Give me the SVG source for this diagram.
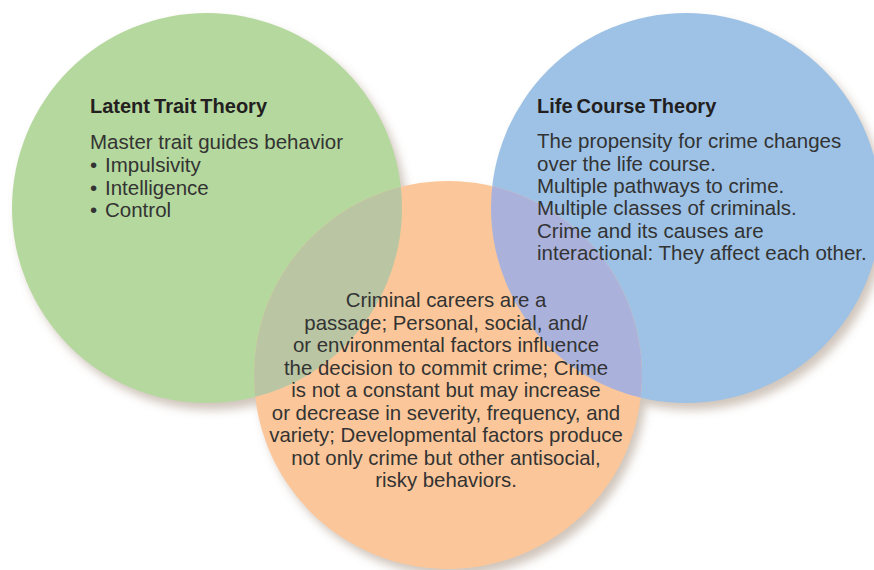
<svg xmlns="http://www.w3.org/2000/svg" width="874" height="570" viewBox="0 0 874 570">
  <defs>
    <filter id="shadow" x="-20%" y="-20%" width="140%" height="140%">
      <feGaussianBlur in="SourceAlpha" stdDeviation="5"/>
      <feOffset dx="5" dy="7" result="b"/>
      <feFlood flood-color="#8a7058" flood-opacity="0.4"/>
      <feComposite in2="b" operator="in"/>
    </filter>
    <clipPath id="clipOrange">
      <circle cx="448" cy="375" r="194"/>
    </clipPath>
  </defs>
  <style>
    text { font-family: "Liberation Sans", Arial, sans-serif; }
    .head { font-size: 20px; font-weight: bold; fill: #231f20; word-spacing: -1.5px; }
    .body { font-size: 20.5px; fill: #333333; }
    .center { font-size: 20.4px; fill: #333333; text-anchor: middle; }
  </style>
  <rect width="874" height="570" fill="#ffffff"/>
  <g id="shadows" filter="url(#shadow)">
    <circle cx="207" cy="208" r="195" fill="#000"/>
    <circle cx="686" cy="208" r="195" fill="#000"/>
    <circle cx="448" cy="375" r="194" fill="#000"/>
  </g>
  <g id="latent">
    <circle cx="207" cy="208" r="195" fill="#b5d89e"/>
  </g>
  <g id="lifecourse">
    <circle cx="686" cy="208" r="195" fill="#9dc2e6"/>
  </g>
  <g id="developmental">
    <circle cx="448" cy="375" r="194" fill="#fbc79a"/>
  </g>
  <g id="overlaps" clip-path="url(#clipOrange)">
    <circle cx="207" cy="208" r="195" fill="#bac6a3"/>
    <circle cx="686" cy="208" r="195" fill="#aab2dc"/>
  </g>
  <g id="connectors"></g>
  <g id="latent-text">
    <text class="head" x="90" y="113">Latent Trait Theory</text>
    <text class="body" x="90" y="149">Master trait guides behavior</text>
    <text class="body" x="90" y="172">•<tspan x="105">Impulsivity</tspan></text>
    <text class="body" x="90" y="195">•<tspan x="105">Intelligence</tspan></text>
    <text class="body" x="90" y="217">•<tspan x="105">Control</tspan></text>
  </g>
  <g id="lifecourse-text">
    <text class="head" x="537" y="113">Life Course Theory</text>
    <text class="body" x="537" y="148">The propensity for crime changes</text>
    <text class="body" x="537" y="171">over the life course.</text>
    <text class="body" x="537" y="193">Multiple pathways to crime.</text>
    <text class="body" x="537" y="215">Multiple classes of criminals.</text>
    <text class="body" x="537" y="238">Crime and its causes are</text>
    <text class="body" x="537" y="260">interactional: They affect each other.</text>
  </g>
  <g id="developmental-text">
    <text class="center" x="446" y="307">Criminal careers are a</text>
    <text class="center" x="446" y="329.5">passage; Personal, social, and/</text>
    <text class="center" x="446" y="352">or environmental factors influence</text>
    <text class="center" x="446" y="374.5">the decision to commit crime; Crime</text>
    <text class="center" x="446" y="397">is not a constant but may increase</text>
    <text class="center" x="446" y="419.5">or decrease in severity, frequency, and</text>
    <text class="center" x="446" y="442">variety; Developmental factors produce</text>
    <text class="center" x="446" y="464.5">not only crime but other antisocial,</text>
    <text class="center" x="446" y="487">risky behaviors.</text>
  </g>
</svg>
